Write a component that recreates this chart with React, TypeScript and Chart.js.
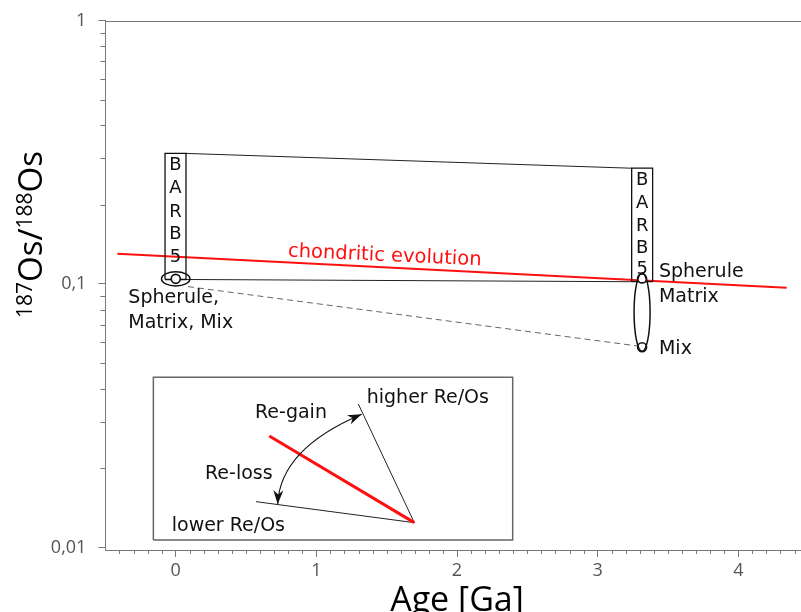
import React, { useEffect, useRef } from 'react';
import { Chart, registerables } from 'chart.js';

Chart.register(...registerables);

const FONT = '"DejaVu Sans", "Liberation Sans", sans-serif';
const AXFONT = '"Open Sans", "Noto Sans", sans-serif';

// ---- axes ----
const xRange = [-0.5, 4.5];
const yRange = [0.00978, 1];
const xMajorTicks = [0, 1, 2, 3, 4];
const yMajorTicks = [0.01, 0.1, 1];
const yTickLabels = ['0,01', '0,1', '1'];
const xTitle = 'Age [Ga]';
const yTitleParts = ['187', 'Os/', '188', 'Os'];

// ---- chondritic evolution ----
const chondriticAge = [-0.415, 4.344];
const chondriticRatio = [0.1303, 0.0968];

// ---- BARB5 boxes ----
const barbLeftAge = [-0.076, 0.073];
const barbLeftRatio = [0.104, 0.313];
const barbRightAge = [3.242, 3.391];
const barbRightRatio = [0.102, 0.275];
const barbLetters = ['B', 'A', 'R', 'B', '5'];
const barbLeftLetterRatio = [0.2708, 0.2209, 0.1801, 0.1482, 0.1215];
const barbRightLetterRatio = [0.2375, 0.1938, 0.1593, 0.1315, 0.1091];

// ---- samples ----
const sampleAge = [0, 3.316, 3.316];
const sampleRatio = [0.1046, 0.105, 0.0575];
const mixLineAge = [0.087, 3.28];
const mixLineRatio = [0.0977, 0.0582];
const ellipseAgeMin = [-0.101, 3.259];
const ellipseAgeMax = [0.101, 3.373];
const ellipseRatioMin = [0.0983, 0.0555];
const ellipseRatioMax = [0.1113, 0.11];

// ---- inset (schematic) ----
const insetAge = [-0.159, 2.396];
const insetRatio = [0.01068, 0.04424];
const insetRedAge = [0.6655, 1.6964];
const insetRedRatio = [0.02649, 0.01242];
const insetFanAge = [0.5709, 1.6964, 1.2983];
const insetFanRatio = [0.01492, 0.01242, 0.03504];
const arcAge = [0.7252, 0.7415, 1.3224];
const arcRatio = [0.01459, 0.02365, 0.03202];

// ---- labels ----
const labelText = ['Spherule,', 'Matrix, Mix', 'Spherule', 'Matrix', 'Mix', 'higher Re/Os', 'Re-gain', 'Re-loss', 'lower Re/Os'];
const labelAge = [-0.337, -0.337, 3.436, 3.436, 3.436, 1.358, 0.5638, 0.2083, -0.0284];
const labelRatio = [0.08446, 0.06828, 0.1066, 0.0857, 0.05424, 0.03526, 0.0311, 0.0182, 0.01158];
const chondriticLabel = 'chondritic evolution';
const chondriticLabelAge = 1.4845;
const chondriticLabelRatio = 0.1223;

const pts = (xs: number[], ys: number[]) => xs.map((x, i) => ({ x, y: ys[i] }));
const rect = (xs: number[], ys: number[]) => [
  { x: xs[0], y: ys[0] },
  { x: xs[1], y: ys[0] },
  { x: xs[1], y: ys[1] },
  { x: xs[0], y: ys[1] },
  { x: xs[0], y: ys[0] },
];

const lineDs = (data: any[], color: string, width: number, dash: number[] = []) => ({
  data,
  showLine: true,
  borderColor: color,
  borderWidth: width,
  borderDash: dash,
  pointRadius: 0,
  pointHoverRadius: 0,
  fill: false,
  tension: 0,
});

const annotationPlugin = {
  id: 'annotations',
  afterDatasetsDraw(chart: any) {
    const { ctx, scales } = chart;
    const xs = scales.x;
    const ys = scales.y;
    const px = (v: number) => xs.getPixelForValue(v);
    const py = (v: number) => ys.getPixelForValue(v);
    ctx.save();

    // ellipses
    ctx.strokeStyle = '#111';
    ctx.lineWidth = 1.5;
    for (let i = 0; i < ellipseAgeMin.length; i++) {
      const x0 = px(ellipseAgeMin[i]);
      const x1 = px(ellipseAgeMax[i]);
      const y0 = py(ellipseRatioMax[i]);
      const y1 = py(ellipseRatioMin[i]);
      ctx.beginPath();
      ctx.ellipse((x0 + x1) / 2, (y0 + y1) / 2, (x1 - x0) / 2, (y1 - y0) / 2, 0, 0, Math.PI * 2);
      ctx.stroke();
    }

    // curved double arrow
    const p0 = { x: px(arcAge[0]), y: py(arcRatio[0]) };
    const c = { x: px(arcAge[1]), y: py(arcRatio[1]) };
    const p2 = { x: px(arcAge[2]), y: py(arcRatio[2]) };
    ctx.strokeStyle = '#111';
    ctx.lineWidth = 1.1;
    ctx.beginPath();
    ctx.moveTo(p0.x, p0.y);
    ctx.quadraticCurveTo(c.x, c.y, p2.x, p2.y);
    ctx.stroke();
    const head = (tip: any, from: any) => {
      const dx = tip.x - from.x;
      const dy = tip.y - from.y;
      const l = Math.hypot(dx, dy);
      const ux = dx / l;
      const uy = dy / l;
      const len = 14;
      const hw = 5;
      const bx = tip.x - ux * len;
      const by = tip.y - uy * len;
      ctx.beginPath();
      ctx.moveTo(tip.x, tip.y);
      ctx.lineTo(bx - uy * hw, by + ux * hw);
      ctx.lineTo(tip.x - ux * len * 0.7, tip.y - uy * len * 0.7);
      ctx.lineTo(bx + uy * hw, by - ux * hw);
      ctx.closePath();
      ctx.fillStyle = '#111';
      ctx.fill();
    };
    head(p0, c);
    head(p2, c);

    // labels
    ctx.textBaseline = 'alphabetic';
    ctx.fillStyle = '#111';
    ctx.textAlign = 'left';
    ctx.font = `19px ${FONT}`;
    labelText.forEach((t, i) => {
      ctx.fillText(t, px(labelAge[i]), py(labelRatio[i]));
    });

    // BARB5 letters
    ctx.textAlign = 'center';
    ctx.font = `18px ${FONT}`;
    const lx = (barbLeftAge[0] + barbLeftAge[1]) / 2;
    const rx = (barbRightAge[0] + barbRightAge[1]) / 2;
    barbLetters.forEach((t, i) => {
      ctx.fillText(t, px(lx), py(barbLeftLetterRatio[i]));
      ctx.fillText(t, px(rx), py(barbRightLetterRatio[i]));
    });

    // chondritic label rotated along the line
    const ang = Math.atan2(
      py(chondriticRatio[1]) - py(chondriticRatio[0]),
      px(chondriticAge[1]) - px(chondriticAge[0])
    );
    ctx.save();
    ctx.translate(px(chondriticLabelAge), py(chondriticLabelRatio));
    ctx.rotate(ang * 0.9);
    ctx.fillStyle = '#ff1010';
    ctx.font = `19.5px ${FONT}`;
    ctx.textAlign = 'center';
    ctx.fillText(chondriticLabel, 0, 0);
    ctx.restore();

    ctx.restore();
  },
  afterDraw(chart: any) {
    const { ctx, scales, chartArea } = chart;
    const xs = scales.x;
    const ys = scales.y;
    ctx.save();
    ctx.strokeStyle = '#777';
    ctx.lineWidth = 1;
    // top frame line
    ctx.beginPath();
    ctx.moveTo(chartArea.left, Math.round(chartArea.top) + 0.5);
    ctx.lineTo(chartArea.right, Math.round(chartArea.top) + 0.5);
    ctx.stroke();
    // minor ticks y
    ctx.beginPath();
    for (const dec of [0.01, 0.1]) {
      for (let m = 2; m <= 9; m++) {
        const y = Math.round(ys.getPixelForValue(m * dec)) + 0.5;
        ctx.moveTo(chartArea.left - 5, y);
        ctx.lineTo(chartArea.left, y);
      }
    }
    // minor ticks x
    for (let k = -4; k <= 44; k++) {
      if (k % 10 === 0) continue;
      const x = Math.round(xs.getPixelForValue(k / 10)) + 0.5;
      ctx.moveTo(x, chartArea.bottom);
      ctx.lineTo(x, chartArea.bottom + 4);
    }
    ctx.stroke();

    // y title with superscripts
    ctx.translate(42, 318);
    ctx.rotate(-Math.PI / 2);
    ctx.fillStyle = '#000';
    ctx.textBaseline = 'alphabetic';
    ctx.textAlign = 'left';
    let cx = 0;
    yTitleParts.forEach((t, i) => {
      const sup = i % 2 === 0;
      ctx.font = `${sup ? 21 : 33}px ${AXFONT}`;
      ctx.fillText(t, cx, sup ? -10 : 0);
      cx += ctx.measureText(t).width;
    });
    ctx.restore();
  },
};

const W = 820;
const H = 622;

export default function App() {
  const ref = useRef<HTMLCanvasElement | null>(null);

  useEffect(() => {
    if (!ref.current) return;
    Chart.defaults.font.family = FONT;
    const chart = new Chart(ref.current, {
      type: 'scatter',
      data: {
        datasets: [
          {
            data: pts(sampleAge, sampleRatio),
            pointRadius: 4.5,
            pointBorderWidth: 1.6,
            pointBackgroundColor: '#fff',
            pointBorderColor: '#111',
            showLine: false,
          } as any,
          lineDs(rect(barbLeftAge, barbLeftRatio), '#111', 1.3),
          lineDs(rect(barbRightAge, barbRightRatio), '#111', 1.3),
          lineDs([{ x: barbLeftAge[1], y: barbLeftRatio[1] }, { x: barbRightAge[0], y: barbRightRatio[1] }], '#222', 1),
          lineDs([{ x: barbLeftAge[1], y: barbLeftRatio[0] }, { x: barbRightAge[0], y: barbRightRatio[0] }], '#222', 1),
          lineDs(pts(mixLineAge, mixLineRatio), '#666', 1, [6, 4]),
          lineDs(pts(chondriticAge, chondriticRatio), '#ff1010', 2),
          lineDs(pts(insetRedAge, insetRedRatio), '#ff1010', 3),
          lineDs(pts(insetFanAge, insetFanRatio), '#222', 1),
          lineDs(rect(insetAge, insetRatio), '#666', 1.5),
        ],
      },
      options: {
        responsive: false,
        maintainAspectRatio: false,
        devicePixelRatio: 1,
        animation: false,
        events: [],
        layout: { padding: { top: 20.5, right: W - 808.6, left: 0, bottom: 0 } },
        plugins: { legend: { display: false }, tooltip: { enabled: false } },
        scales: {
          x: {
            type: 'linear',
            min: xRange[0],
            max: xRange[1],
            afterBuildTicks: (axis: any) => {
              axis.ticks = xMajorTicks.map((v) => ({ value: v }));
            },
            afterFit: (s: any) => {
              s.height = H - 550;
              s.paddingLeft = 0;
              s.paddingRight = 0;
            },
            ticks: {
              color: '#555',
              font: { size: 18, family: AXFONT },
              padding: 3,
              maxRotation: 0,
              autoSkip: false,
              callback: (v: any) => String(v),
            },
            grid: { drawOnChartArea: false, drawTicks: true, tickLength: 7, color: '#777' },
            border: { display: true, color: '#777', width: 1 },
            title: {
              display: true,
              text: xTitle,
              color: '#000',
              font: { size: 34, family: AXFONT },
              padding: { top: 0, bottom: 0 },
            },
          },
          y: {
            type: 'logarithmic',
            min: yRange[0],
            max: yRange[1],
            afterBuildTicks: (axis: any) => {
              axis.ticks = yMajorTicks.map((v) => ({ value: v }));
            },
            afterFit: (s: any) => {
              s.width = 105.4;
              s.paddingTop = 0;
              s.paddingBottom = 0;
            },
            ticks: {
              color: '#555',
              font: { size: 18, family: AXFONT },
              padding: 12,
              autoSkip: false,
              callback: (v: any) => {
                let best = 0;
                yMajorTicks.forEach((t, i) => {
                  if (Math.abs(Math.log10(t) - Math.log10(v)) < Math.abs(Math.log10(yMajorTicks[best]) - Math.log10(v))) best = i;
                });
                return yTickLabels[best];
              },
            },
            grid: { drawOnChartArea: false, drawTicks: true, tickLength: 7, color: '#777' },
            border: { display: true, color: '#777', width: 1 },
          },
        },
      },
      plugins: [annotationPlugin],
    } as any);
    return () => chart.destroy();
  }, []);

  return (
    <div
      style={{
        position: 'fixed',
        left: 0,
        top: 0,
        width: 801,
        height: 612,
        overflow: 'hidden',
        background: '#fff',
      }}
    >
      <canvas ref={ref} width={W} height={H} style={{ display: 'block', width: W, height: H }} />
    </div>
  );
}
